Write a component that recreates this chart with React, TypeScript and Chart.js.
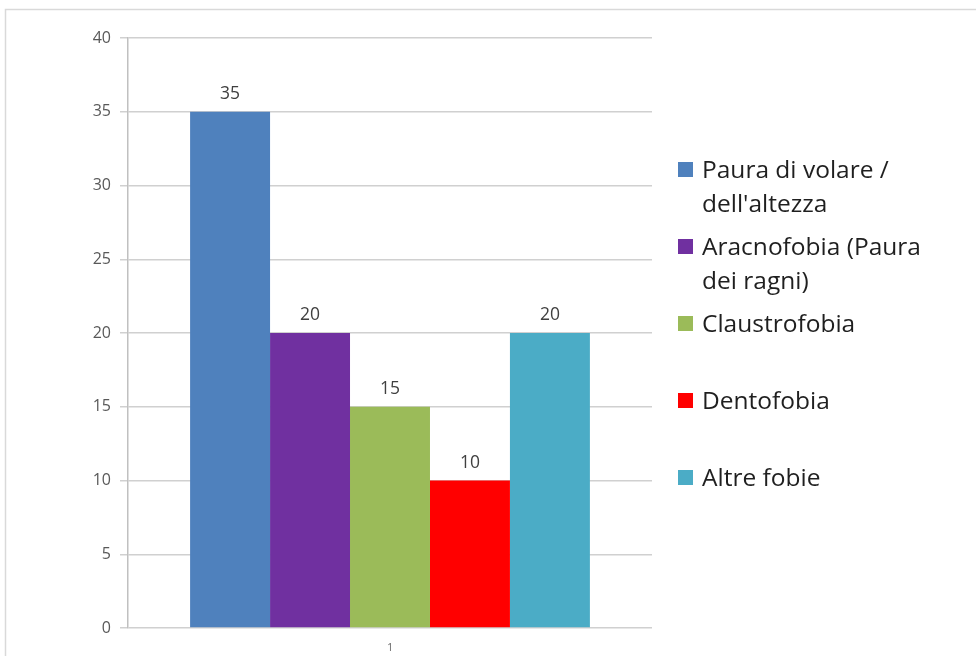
import React, { useEffect, useRef } from "react";
import { Chart, registerables } from "chart.js";

Chart.register(...registerables);

const categories = ["1"];
const seriesNames = [
  "Paura di volare / dell'altezza",
  "Aracnofobia (Paura dei ragni)",
  "Claustrofobia",
  "Dentofobia",
  "Altre fobie",
];
const seriesValues = [35, 20, 15, 10, 20];
const seriesColors = ["#4F81BD", "#7030A0", "#9BBB59", "#FF0000", "#4BACC6"];
const yTicks = [0, 5, 10, 15, 20, 25, 30, 35, 40];

const FONT = "'Open Sans', 'DejaVu Sans', sans-serif";

function wrap(ctx: CanvasRenderingContext2D, text: string, maxW: number): string[] {
  const words = text.split(" ");
  const lines: string[] = [];
  let cur = "";
  for (const w of words) {
    const t = cur ? cur + " " + w : w;
    if (ctx.measureText(t).width > maxW && cur) {
      lines.push(cur);
      cur = w;
    } else cur = t;
  }
  if (cur) lines.push(cur);
  return lines;
}

const framePlugin = {
  id: "frame",
  beforeDraw(chart: any) {
    const ctx = chart.ctx;
    ctx.save();
    ctx.fillStyle = "#ffffff";
    ctx.fillRect(0, 0, chart.width, chart.height);
    ctx.strokeStyle = "#d9d9d9";
    ctx.lineWidth = 1.5;
    ctx.strokeRect(5.5, 9.5, chart.width + 20, chart.height + 20);
    ctx.restore();
  },
};

const valueLabels = {
  id: "valueLabels",
  afterDatasetsDraw(chart: any) {
    const ctx = chart.ctx;
    ctx.save();
    ctx.font = `17.5px ${FONT}`;
    ctx.fillStyle = "#404040";
    ctx.textAlign = "center";
    ctx.textBaseline = "alphabetic";
    chart.data.datasets.forEach((ds: any, i: number) => {
      const meta = chart.getDatasetMeta(i);
      meta.data.forEach((bar: any, j: number) => {
        ctx.fillText(String(ds.data[j]), bar.x, bar.y - 13);
      });
    });
    ctx.restore();
  },
};

const sideLegend = {
  id: "sideLegend",
  afterDraw(chart: any) {
    const ctx = chart.ctx;
    ctx.save();
    ctx.font = `24.5px ${FONT}`;
    ctx.textBaseline = "alphabetic";
    ctx.textAlign = "left";
    const slotTop = 150;
    const slotH = 77;
    const lineH = 33.5;
    chart.data.datasets.forEach((ds: any, i: number) => {
      const base = slotTop + i * slotH + 28;
      ctx.fillStyle = ds.backgroundColor;
      ctx.fillRect(678, base - 16, 15, 15);
      ctx.fillStyle = "#1f1f1f";
      const lines = wrap(ctx, ds.label, 245);
      lines.forEach((l, k) => ctx.fillText(l, 702, base + k * lineH));
    });
    ctx.restore();
  },
};

export default function App() {
  const ref = useRef<HTMLCanvasElement>(null);
  useEffect(() => {
    document.body.style.margin = "0";
    const chart = new Chart(ref.current!, {
      type: "bar",
      data: {
        labels: categories,
        datasets: seriesNames.map((name, i) => ({
          label: name,
          data: [seriesValues[i]],
          backgroundColor: seriesColors[i],
          borderWidth: 0,
          categoryPercentage: 0.763,
          barPercentage: 1,
        })),
      },
      options: {
        responsive: false,
        animation: false,
        layout: { padding: { left: 0, top: 38, right: 976 - 652, bottom: 0 } },
        plugins: { legend: { display: false }, tooltip: { enabled: false } },
        scales: {
          x: {
            grid: { display: false },
            border: { display: false },
            ticks: { font: { size: 10, family: FONT }, color: "#595959", padding: 6 },
            afterFit(scale: any) {
              scale.height = 28;
            },
          },
          y: {
            min: 0,
            max: 40,
            afterBuildTicks(scale: any) {
              scale.ticks = yTicks.map((v) => ({ value: v }));
            },
            grid: { color: "#d0d0d0", lineWidth: 1.5, tickLength: 8 },
            border: { color: "#c0c0c0", width: 1.5 },
            ticks: { font: { size: 16, family: FONT }, color: "#595959", padding: 9 },
            afterFit(scale: any) {
              scale.width = 128;
            },
          },
        },
      },
      plugins: [framePlugin, valueLabels, sideLegend],
    });
    return () => chart.destroy();
  }, []);
  return <canvas ref={ref} width={976} height={656} style={{ display: "block" }} />;
}
